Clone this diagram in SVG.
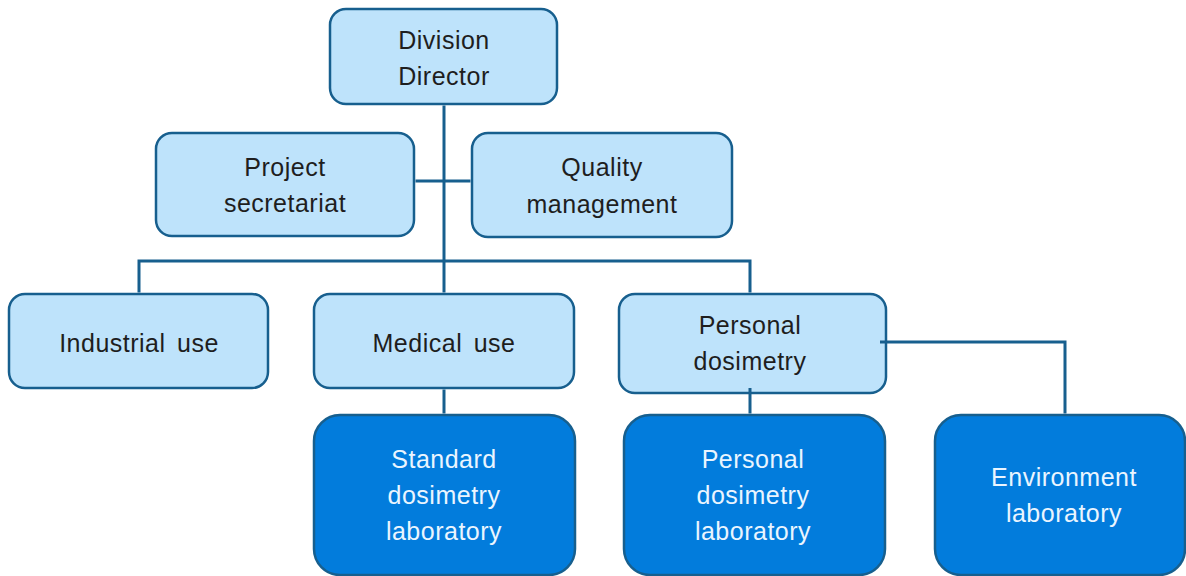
<svg xmlns="http://www.w3.org/2000/svg" width="1186" height="576" viewBox="0 0 1186 576">
<style>
.lt{fill:#BEE3FB;stroke:#175F8E;stroke-width:2.5}
.dk{fill:#027CDC;stroke:#175F8E;stroke-width:2.5}
.t{font-family:"Liberation Sans",Arial,sans-serif;font-size:25px;text-anchor:middle;fill:#1E1E1E;letter-spacing:0.5px;word-spacing:4px}
.w{fill:#EAF5FF}
.c{fill:none;stroke:#175F8E;stroke-width:3}
</style>
<rect width="1186" height="576" fill="#FFFFFF"/>
<g id="division-director"><rect class="lt" x="330" y="9" width="227" height="95" rx="16"/><text class="t" x="444" y="49">Division</text><text class="t" x="444" y="85">Director</text></g>
<g id="project-secretariat"><rect class="lt" x="156" y="133" width="258" height="103" rx="16"/><text class="t" x="285" y="176">Project</text><text class="t" x="285" y="212">secretariat</text></g>
<g id="quality-management"><rect class="lt" x="472" y="133" width="260" height="104" rx="16"/><text class="t" x="602" y="176">Quality</text><text class="t" x="602" y="213">management</text></g>
<g id="industrial-use"><rect class="lt" x="9" y="294" width="259" height="94" rx="16"/><text class="t" x="139" y="352">Industrial use</text></g>
<g id="medical-use"><rect class="lt" x="314" y="294" width="260" height="94" rx="16"/><text class="t" x="444" y="352">Medical use</text></g>
<g id="personal-dosimetry"><rect class="lt" x="619" y="294" width="267" height="99" rx="16"/><text class="t" x="750" y="334">Personal</text><text class="t" x="750" y="370">dosimetry</text></g>
<g id="standard-dosimetry-laboratory"><rect class="dk" x="314" y="415" width="261" height="160" rx="26"/><text class="t w" x="444" y="468">Standard</text><text class="t w" x="444" y="504">dosimetry</text><text class="t w" x="444" y="540">laboratory</text></g>
<g id="personal-dosimetry-laboratory"><rect class="dk" x="624" y="415" width="261" height="160" rx="26"/><text class="t w" x="753" y="468">Personal</text><text class="t w" x="753" y="504">dosimetry</text><text class="t w" x="753" y="540">laboratory</text></g>
<g id="environment-laboratory"><rect class="dk" x="935" y="415" width="250" height="160" rx="26"/><text class="t w" x="1064" y="486">Environment</text><text class="t w" x="1064" y="522">laboratory</text></g>
<g id="connectors">
<path class="c" d="M444 105.5V292.5"/>
<path class="c" d="M415.5 181H470.5"/>
<path class="c" d="M139 292.5V261H750V292.5"/>
<path class="c" d="M444 389.5V413.5"/>
<path class="c" d="M750 388V413.5"/>
<path class="c" d="M880 342H1065V413.5"/>
</g>
</svg>
